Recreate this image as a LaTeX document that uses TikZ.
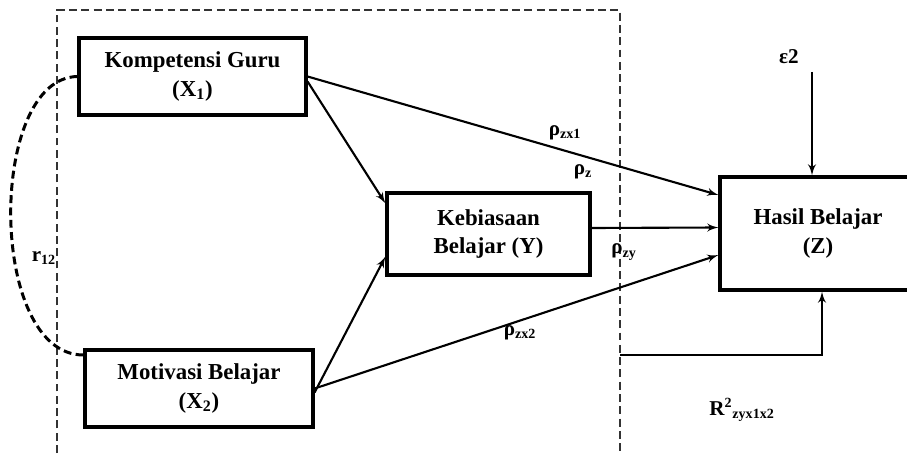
\documentclass[tikz,border=0pt]{standalone}
\usepackage{fontspec}
\setmainfont{Liberation Serif}
\usetikzlibrary{arrows,calc}
\tikzset{
    var/.style =    {rectangle,
                    fill=white,
                    draw=black,
                    text=black,
                    line width=1.8pt,
                    align=center,
                    font=\fontsize{13}{16}\selectfont\bfseries},
    lbl/.style =    {text=black,
                    font=\fontsize{12}{14}\selectfont\bfseries},
    path/.style =   {->,
                    line width=1.2pt},
    >=latex',
    draw=black}

\begin{document}
\begin{tikzpicture}
            \useasboundingbox (0,0) rectangle (18.14,9.06);
            % dashed frame (bottom edge is cut off)
            \draw[line width=0.6pt, draw=black!80, dash pattern=on 4.5pt off 2.5pt]
                (1.14,0) -- (1.14,8.86) -- (12.4,8.86) -- (12.4,0);
            \node[var, minimum width=4.54cm, minimum height=1.54cm] (X1) at (3.85,7.53) {Kompetensi Guru\\(X\textsubscript{1})};
            \node[var, minimum width=4.56cm, minimum height=1.54cm] (X2) at (3.98,1.29) {Motivasi Belajar\\(X\textsubscript{2})};
            \node[var, minimum width=4.06cm, minimum height=1.64cm] (Y) at (9.77,4.38) {Kebiasaan\\Belajar (Y)};
            \node[var, minimum width=3.92cm, minimum height=2.26cm] (Z) at (16.36,4.39) {Hasil Belajar\\(Z)};
            \node[lbl] (eps) at (15.78,7.92) {ε2};
            \coordinate (epsarr) at (16.24,7.62);
            \coordinate (fb) at (12.4,1.96);
            \node[lbl] (r12) at (0.88,3.9) {r\textsubscript{12}};
            \node[lbl] (pzx1) at (11.3,6.4) {ρ\textsubscript{zx1}};
            \node[lbl] (pz) at (11.66,5.62) {ρ\textsubscript{z}};
            \node[lbl] (pzy) at (12.48,4.02) {ρ\textsubscript{zy}};
            \node[lbl] (pzx2) at (10.4,2.4) {ρ\textsubscript{zx2}};
            \node[lbl] (R2) at (14.84,0.86) {R\textsuperscript{2}\textsubscript{zyx1x2}};
            \draw[path]  (X1.east) -- ([yshift=0.77cm]Z.west);
            \draw[path]  ([yshift=-0.1cm]X1.east) -- ([yshift=-0.24cm]Y.north west);
            \draw[path]  ([yshift=0.12cm]Y.east) -- ([yshift=0.12cm]Z.west);
            \draw[path]  (X2.east) -- ([yshift=-0.43cm]Z.west);
            \draw[path]  ([yshift=-0.08cm]X2.east) -- ([yshift=0.4cm]Y.south west);
            \draw[path]  (epsarr) -- (epsarr |- Z.north);
            \draw[path]  (fb) -| ([xshift=0.08cm]Z.south);
            \draw[line width=1.7pt, dash pattern=on 4.5pt off 2.5pt]  (X1.west) .. controls (-0.25,7.5) and (-0.25,1.96) .. ([yshift=0.67cm]X2.west);
\end{tikzpicture}
\end{document}
